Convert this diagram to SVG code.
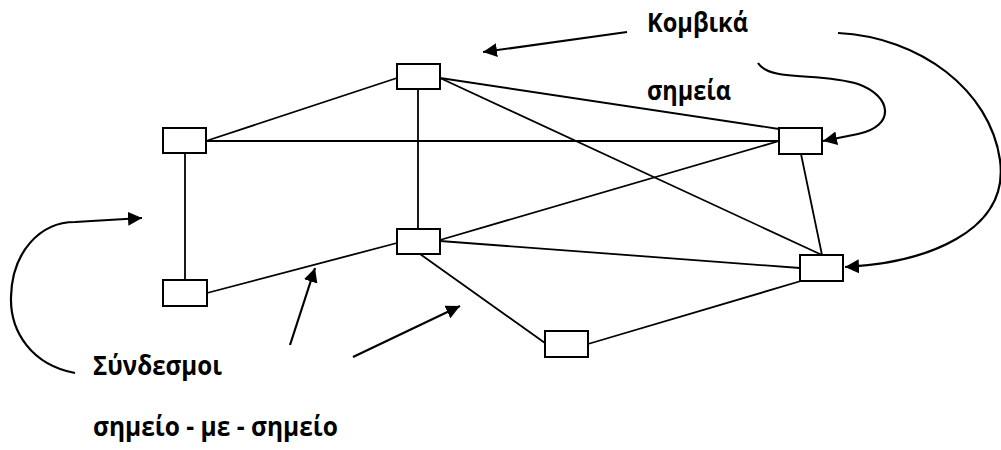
<svg xmlns="http://www.w3.org/2000/svg" width="1001" height="450" viewBox="0 0 1001 450">
  <style>
    .node { fill: #ffffff; stroke: #000000; stroke-width: 2; }
    .link { stroke: #000000; stroke-width: 1.8; fill: none; }
    .pointer { stroke: #000000; stroke-width: 2.2; fill: none; marker-end: url(#head); }
    .label { font-family: "Open Sans", "Noto Sans", "DejaVu Sans", sans-serif; font-weight: bold; font-size: 26px; fill: #000000; }
  </style>
  <defs>
    <marker id="head" markerUnits="userSpaceOnUse" markerWidth="16" markerHeight="16" refX="14" refY="7" orient="auto">
      <path d="M0,0 L14,7 L0,14 z" fill="#000000"/>
    </marker>
  </defs>
  <rect width="1001" height="450" fill="#ffffff"/>

  <!-- point-to-point links -->
  <g id="links">
    <line class="link" x1="206" y1="141" x2="397" y2="78"/>
    <line class="link" x1="206" y1="141" x2="779" y2="141"/>
    <line class="link" x1="185" y1="153" x2="185" y2="280"/>
    <line class="link" x1="418" y1="89" x2="418" y2="229"/>
    <line class="link" x1="440" y1="78" x2="779" y2="129"/>
    <line class="link" x1="440" y1="78" x2="822" y2="255"/>
    <line class="link" x1="440" y1="240" x2="779" y2="141"/>
    <line class="link" x1="801" y1="154" x2="822" y2="255"/>
    <line class="link" x1="440" y1="241" x2="800" y2="268"/>
    <line class="link" x1="420" y1="254" x2="545" y2="343"/>
    <line class="link" x1="588" y1="344" x2="801" y2="281"/>
    <line class="link" x1="207" y1="293" x2="397" y2="243"/>
  </g>

  <!-- switching nodes -->
  <g id="node-a"><rect class="node" x="163" y="128" width="43" height="25"/></g>
  <g id="node-b"><rect class="node" x="397" y="64" width="43" height="25"/></g>
  <g id="node-c"><rect class="node" x="779" y="128" width="43" height="26"/></g>
  <g id="node-d"><rect class="node" x="397" y="229" width="43" height="25"/></g>
  <g id="node-e"><rect class="node" x="163" y="280" width="44" height="26"/></g>
  <g id="node-f"><rect class="node" x="545" y="331" width="43" height="26"/></g>
  <g id="node-g"><rect class="node" x="800" y="255" width="43" height="26"/></g>

  <!-- annotation arrows -->
  <g id="pointers">
    <line class="pointer" x1="627" y1="32" x2="483" y2="52"/>
    <path class="pointer" d="M758,63 C770,82 820,72 858,84 C892,96 896,126 858,134 L823,141"/>
    <path class="pointer" d="M838,33 C920,37 990,90 1000,160 C1010,232 925,263 845,267"/>
    <path class="pointer" d="M75,373 C32,365 10,332 11,297 C12,252 40,222 75,222 L142,218"/>
    <line class="pointer" x1="290" y1="345" x2="315" y2="268"/>
    <line class="pointer" x1="353" y1="357" x2="460" y2="306"/>
  </g>

  <!-- labels -->
  <g id="labels">
    <text class="label" x="647" y="32" textLength="101" lengthAdjust="spacingAndGlyphs">Κομβικά</text>
    <text class="label" x="647" y="100" textLength="84" lengthAdjust="spacingAndGlyphs">σημεία</text>
    <text class="label" x="93" y="375" textLength="129" lengthAdjust="spacingAndGlyphs">Σύνδεσμοι</text>
    <text class="label" x="93" y="436" textLength="245" lengthAdjust="spacingAndGlyphs">σημείο - με - σημείο</text>
  </g>
</svg>
